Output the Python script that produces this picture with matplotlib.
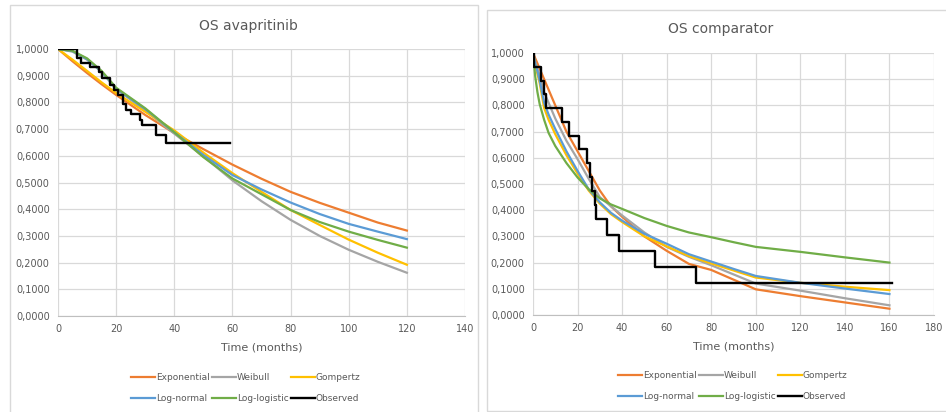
"""
plot.py -- two Excel-style overall survival extrapolation panels
(OS avapritinib / OS comparator) with parametric fits and observed KM steps.
"""
import matplotlib
matplotlib.use("Agg")
import matplotlib.pyplot as plt
from matplotlib.patches import Rectangle
from matplotlib.ticker import FuncFormatter

# ---- left panel: OS avapritinib ------------------------------------------
t_left = [0, 5, 10, 15, 20, 30, 40, 50, 60, 70, 80, 90, 100, 110, 120]
exp_left = [1.0, 0.954, 0.91, 0.868, 0.828, 0.753, 0.685, 0.625, 0.567,
            0.514, 0.465, 0.424, 0.387, 0.35, 0.32]
weib_left = [1.0, 0.99, 0.96, 0.915, 0.85, 0.77, 0.683, 0.598, 0.508,
             0.43, 0.36, 0.30, 0.248, 0.203, 0.162]
gomp_left = [1.0, 0.96, 0.918, 0.875, 0.835, 0.765, 0.695, 0.612, 0.535,
             0.465, 0.397, 0.341, 0.286, 0.237, 0.192]
lnorm_left = [1.0, 0.992, 0.962, 0.915, 0.852, 0.775, 0.688, 0.603, 0.528,
              0.474, 0.425, 0.382, 0.345, 0.316, 0.288]
llog_left = [1.0, 0.993, 0.965, 0.918, 0.855, 0.778, 0.688, 0.595, 0.515,
             0.456, 0.397, 0.352, 0.316, 0.285, 0.256]
obs_t_left = [0, 6.5, 8.0, 11.0, 14.0, 15.3, 17.8, 19.2, 20.6, 22.5, 23.4,
              25.0, 28.3, 29.0, 33.6, 37.3, 59.0]
obs_s_left = [1.0, 0.965, 0.948, 0.932, 0.912, 0.89, 0.865, 0.848, 0.828,
              0.795, 0.773, 0.755, 0.735, 0.715, 0.678, 0.649, 0.649]

# ---- right panel: OS comparator ------------------------------------------
t_right = [0, 1, 2, 3, 5, 7, 10, 15, 20, 25, 30, 35, 40, 50, 60, 70, 80,
           90, 100, 120, 140, 160]
exp_right = [1.0, 0.98, 0.96, 0.94, 0.90, 0.86, 0.80, 0.70, 0.625, 0.55,
             0.475, 0.415, 0.375, 0.30, 0.245, 0.195, 0.172, 0.135, 0.098,
             0.072, 0.048, 0.024]
weib_right = [1.0, 0.965, 0.94, 0.915, 0.85, 0.81, 0.75, 0.665, 0.595,
              0.52, 0.45, 0.415, 0.38, 0.315, 0.26, 0.222, 0.19, 0.155,
              0.12, 0.093, 0.064, 0.037]
gomp_right = [1.0, 0.955, 0.92, 0.885, 0.79, 0.745, 0.69, 0.61, 0.54,
              0.475, 0.425, 0.385, 0.355, 0.30, 0.262, 0.225, 0.197, 0.17,
              0.143, 0.123, 0.108, 0.095]
lnorm_right = [1.0, 0.96, 0.93, 0.895, 0.81, 0.765, 0.71, 0.625, 0.55,
               0.48, 0.43, 0.39, 0.36, 0.31, 0.272, 0.232, 0.204, 0.176,
               0.149, 0.123, 0.101, 0.08]
llog_right = [1.0, 0.91, 0.85, 0.805, 0.745, 0.695, 0.645, 0.58, 0.525,
              0.48, 0.445, 0.422, 0.405, 0.37, 0.34, 0.315, 0.297, 0.278,
              0.26, 0.241, 0.22, 0.2]
obs_t_right = [0, 0.6, 3.4, 5.0, 6.0, 12.9, 16.3, 20.8, 24.4, 25.8, 26.3,
               28.0, 28.5, 33.2, 38.4, 54.8, 73.0, 161]
obs_s_right = [1.0, 0.947, 0.895, 0.842, 0.79, 0.737, 0.684, 0.632, 0.579,
               0.526, 0.474, 0.421, 0.368, 0.307, 0.246, 0.184, 0.123, 0.123]

labels = ["Exponential", "Weibull", "Gompertz", "Log-normal",
          "Log-logistic", "Observed"]
colors = ["#ED7D31", "#A5A5A5", "#FFC000", "#5B9BD5", "#70AD47", "black"]

W, H = 946, 412
fig = plt.figure(figsize=(W / 100, H / 100), dpi=100)
TXT = "#595959"


def px_axes(x0, y0, x1, y1):
    return fig.add_axes([x0 / W, 1 - y1 / H, (x1 - x0) / W, (y1 - y0) / H])


def frame(x0, y0, x1, y1):
    fig.patches.append(Rectangle((x0 / W, 1 - y1 / H), (x1 - x0) / W,
                                 (y1 - y0) / H, transform=fig.transFigure,
                                 fill=False, ec="#D9D9D9", lw=1.0))


def panel(ax, t, fits, obs_t, obs_s, xmax, title, tx, ty, leg_x, leg_y):
    hs = []
    for ys, c in zip(fits, colors[:5]):
        h, = ax.plot(t, ys, color=c, lw=1.6)
        hs.append(h)
    h, = ax.step(obs_t, obs_s, where="post", color="black", lw=1.7)
    hs.append(h)
    ax.set_xlim(0, xmax)
    ax.set_ylim(0, 1)
    ax.set_xticks(range(0, xmax + 1, 20))
    ax.set_yticks([i / 10 for i in range(11)])
    ax.yaxis.set_major_formatter(
        FuncFormatter(lambda v, p: f"{v:.4f}".replace(".", ",")))
    ax.grid(True, color="#D9D9D9", lw=0.9)
    ax.set_axisbelow(True)
    for s in ("top", "right", "left"):
        ax.spines[s].set_visible(False)
    ax.spines["bottom"].set_color("#BFBFBF")
    ax.tick_params(length=0, labelsize=7, colors=TXT, pad=6)
    ax.set_xlabel("Time (months)", fontsize=8, color=TXT, labelpad=6)
    fig.text(tx / W, 1 - ty / H, title, fontsize=10, color=TXT,
             ha="center", va="center")
    order = [0, 3, 1, 4, 2, 5]
    ax.legend([hs[i] for i in order], [labels[i] for i in order], ncol=3,
              loc="center", bbox_to_anchor=(leg_x / W, 1 - leg_y / H),
              bbox_transform=fig.transFigure, frameon=False, fontsize=6.5,
              labelcolor=TXT, handlelength=2.6, handletextpad=0.15,
              columnspacing=0.25, labelspacing=1.3, borderpad=0)


frame(10, 5, 478, 415)
frame(487, 10, 950, 411)

ax1 = px_axes(58, 49, 465, 316)
panel(ax1, t_left, [exp_left, weib_left, gomp_left, lnorm_left, llog_left],
      obs_t_left, obs_s_left, 140, "OS avapritinib", 248, 26, 246, 388)

ax2 = px_axes(533, 53, 934, 315)
panel(ax2, t_right, [exp_right, weib_right, gomp_right, lnorm_right,
                     llog_right],
      obs_t_right, obs_s_right, 180, "OS comparator", 721, 29, 733, 386)

fig.savefig("out.png", dpi=100)
